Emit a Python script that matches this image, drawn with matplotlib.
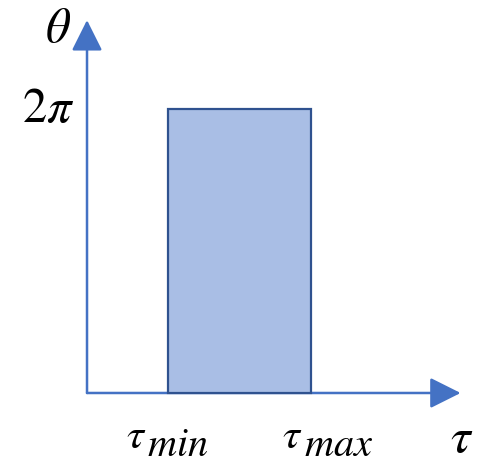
import matplotlib
matplotlib.use("Agg")
import matplotlib.pyplot as plt
from matplotlib.patches import Rectangle
import numpy as np

plt.rcParams['mathtext.fontset'] = 'stix'

# uniform region in (tau, theta)
tau_min = 1.0
tau_max = 2.75
theta_max = 2 * np.pi

axis_color = '#4472C4'
fill_color = '#A9BEE5'
edge_color = '#2F528F'

fig = plt.figure(figsize=(4.87, 4.63), dpi=100)
ax = fig.add_axes([0, 0, 1, 1])
ax.set_xlim(-1.069, 4.914)
ax.set_ylim(-1.549, 8.695)
ax.axis('off')

# tau / theta axes with arrow heads
head = '-|>,head_length=1.9,head_width=0.95'
ax.annotate('', xy=(4.59, 0), xytext=(0, 0),
            arrowprops=dict(arrowstyle=head, color=axis_color, lw=1.8,
                            shrinkA=0, shrinkB=0))
ax.annotate('', xy=(0, 8.25), xytext=(0, 0),
            arrowprops=dict(arrowstyle=head, color=axis_color, lw=1.8,
                            shrinkA=0, shrinkB=0))

ax.add_patch(Rectangle((tau_min, 0), tau_max - tau_min, theta_max,
                       facecolor=fill_color, edgecolor=edge_color, lw=1.6, zorder=3))

# axis labels
ax.text(-0.52, 7.77, r'$\theta$', fontsize=35, ha='left', va='baseline')
ax.text(-0.80, 6.0, r'$2\pi$', fontsize=35, ha='left', va='baseline')

# tick labels: subscript drawn as its own text, nearly full size, dropped down
for x_tau, x_sub, sub in [(tau_min - 0.52, tau_min - 0.26, 'min'),
                          (tau_max - 0.36, tau_max - 0.09, 'max')]:
    ax.text(x_tau, -1.22, r'$\tau$', fontsize=31, ha='left', va='baseline')
    ax.text(x_sub, -1.40, r'$%s$' % sub, fontsize=29, ha='left', va='baseline')

ax.text(4.46, -1.30, r'$\tau$', fontsize=36, ha='left', va='baseline')

fig.savefig('out.png', dpi=100)
